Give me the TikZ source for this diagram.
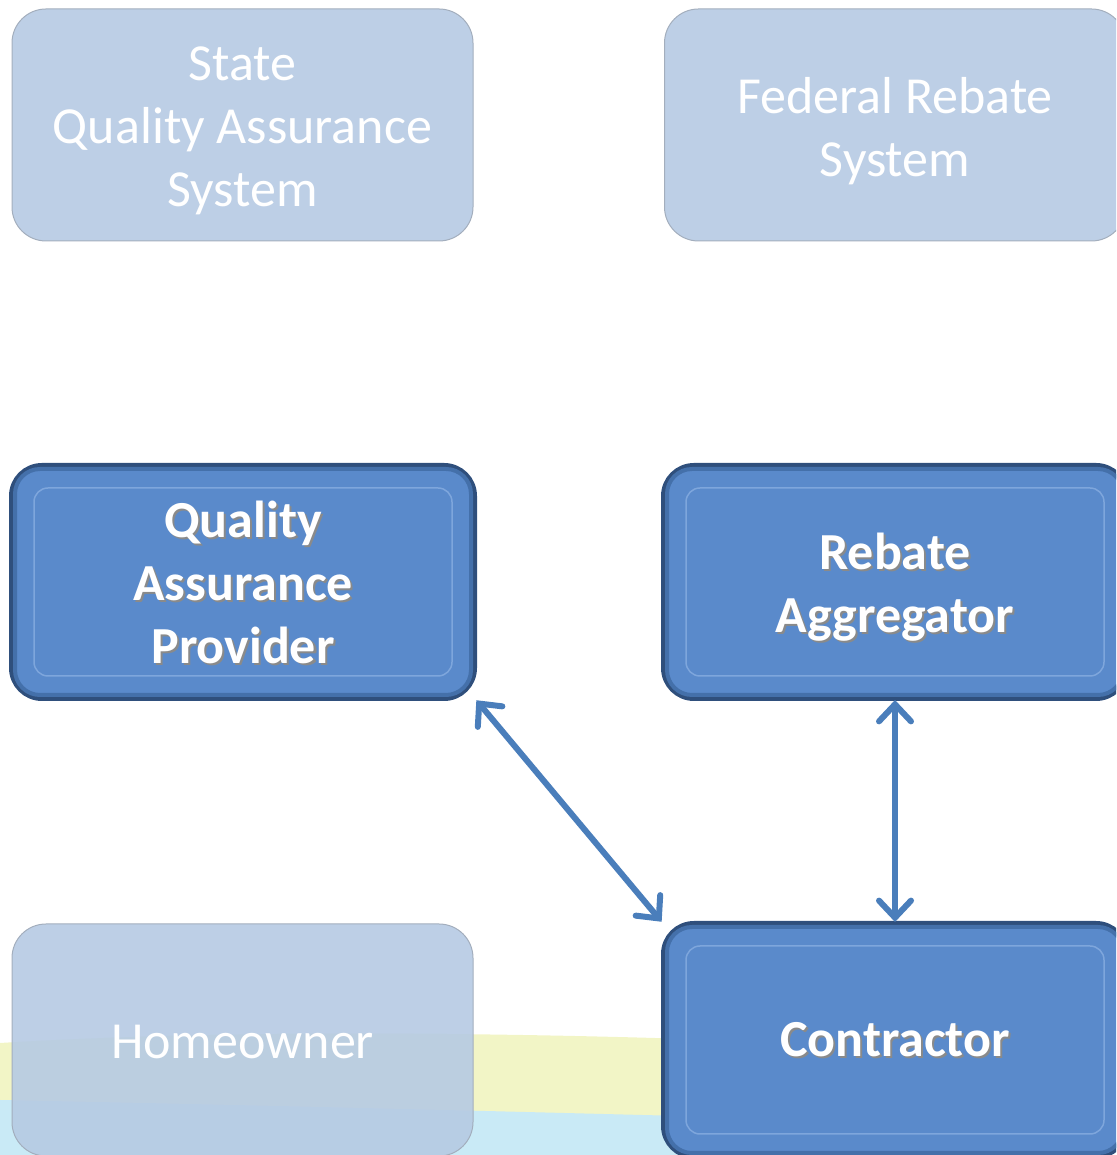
\documentclass[tikz,border=0pt]{standalone}
\usepackage{fontspec}
\setmainfont{Carlito}
\usetikzlibrary{arrows.meta,calc}
\definecolor{fadefill}{HTML}{B6CAE3}
\definecolor{fadeedge}{HTML}{A3AEBD}
\definecolor{boldfill}{HTML}{5A8ACB}
\definecolor{boldedge}{HTML}{2F4F7C}
\definecolor{boldmid}{HTML}{4470AA}
\definecolor{boldline}{HTML}{7EA6DC}
\definecolor{arrowblue}{HTML}{4A7EBB}
\definecolor{bandyellow}{HTML}{F2F5C6}
\definecolor{bandcyan}{HTML}{C9EAF6}
\definecolor{shadowgrey}{HTML}{8A8A8A}
\tikzset{
  x=1pt,y=1pt,
  fadebox/.style={rectangle, rounded corners=34pt, minimum width=461pt, minimum height=232pt,
    fill=fadefill, draw=fadeedge, line width=1pt, fill opacity=0.9, text opacity=1,
    text=white, align=center, font=\fontsize{52}{63}\selectfont, inner sep=0pt},
  boldbox/.style={rectangle, rounded corners=30pt, minimum width=462pt, minimum height=232pt,
    fill=boldfill, draw=boldedge, line width=6pt, inner sep=0pt},
  boldtext/.style={text=white, align=center, font=\bfseries\fontsize{52}{63}\selectfont, inner sep=0pt},
  shadowtext/.style={text=shadowgrey, align=center, font=\bfseries\fontsize{52}{63}\selectfont, inner sep=0pt},
  link/.style={draw=arrowblue, line width=6pt, line cap=round,
    {Straight Barb[length=17pt,width=32pt,line cap=round]}-{Straight Barb[length=17pt,width=32pt,line cap=round]}},
}
\newcommand{\bevel}[1]{%
  \draw[boldmid, line width=4pt, rounded corners=25pt]
    ($(#1.south west)+(6,6)$) rectangle ($(#1.north east)+(-6,-6)$);
  \draw[boldline, line width=1.5pt, rounded corners=14pt]
    ($(#1.south west)+(25,25)$) rectangle ($(#1.north east)+(-25,-25)$);
}
\begin{document}
\begin{tikzpicture}
\useasboundingbox (0,0) rectangle (1116,1155);
\clip (0,0) rectangle (1116,1155);
% background bands
\fill[bandyellow] (0,0) -- (0,112) .. controls (200,124) and (450,124) .. (720,115) -- (720,0) -- cycle;
\fill[bandcyan] (0,0) -- (0,55) .. controls (250,50) and (450,45) .. (720,38) -- (720,0) -- cycle;
% faded boxes
\node[fadebox] (sqa) at (242.5,1030) {};
\node[fadebox] (frs) at (895,1030) {};
\node[fadebox] (home) at (242.5,115) {};
\node[text=white, align=center, font=\fontsize{52}{63}\selectfont, inner sep=0pt] (sqat) at ($(sqa.center)+(0,-6)$) {State\\Quality Assurance\\System};
\node[text=white, align=center, font=\fontsize{52}{63}\selectfont, inner sep=0pt] (frst) at ($(frs.center)+(0,-6)$) {Federal Rebate\\System};
\node[text=white, align=center, font=\fontsize{52}{63}\selectfont, inner sep=0pt] (homet) at ($(home.center)+(0,-2)$) {Homeowner};
% bold boxes
\node[boldbox] (qap) at (243,573) {};
\node[boldbox] (ra) at (895,573) {};
\node[boldbox] (con) at (895,115) {};
\bevel{qap}
\bevel{ra}
\bevel{con}
\node[shadowtext] (qapsh) at ($(qap.center)+(2,-2)$) {Quality\\Assurance\\Provider};
\node[boldtext] (qapt) at (qap.center) {Quality\\Assurance\\Provider};
\node[shadowtext] (rash) at ($(ra.center)+(2,-7)$) {Rebate\\Aggregator};
\node[boldtext] (rat) at ($(ra.center)+(0,-5)$) {Rebate\\Aggregator};
\node[shadowtext] (consh) at ($(con.center)+(2,-2)$) {Contractor};
\node[boldtext] (cont) at (con.center) {Contractor};
% connectors
\draw[link, shorten <=-1pt, shorten >=-1pt] (qap.south east) -- (con.north west);
\draw[link, shorten <=-1pt, shorten >=-1pt] (ra.south) -- (con.north);
\end{tikzpicture}
\end{document}
